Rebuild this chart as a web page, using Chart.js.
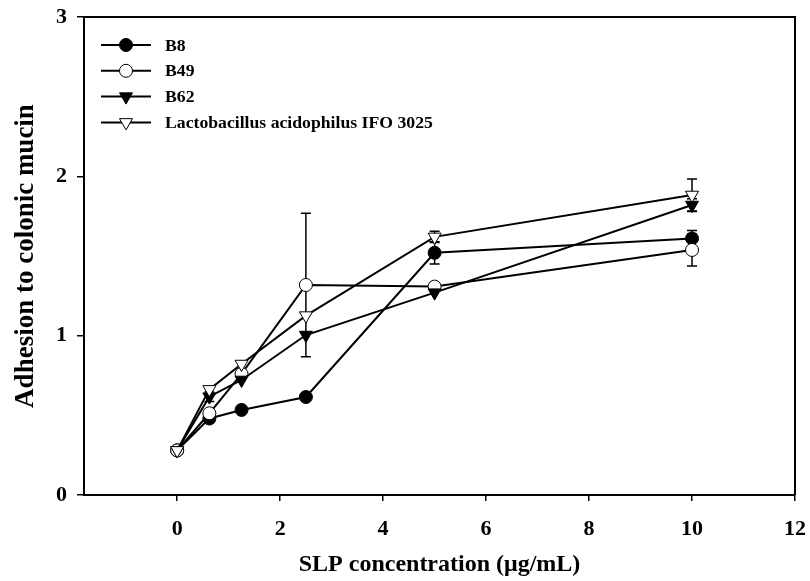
<!DOCTYPE html>
<html>
<head>
<meta charset="UTF-8" />
<title>Adhesion to colonic mucin</title>
<script src="https://cdn.jsdelivr.net/npm/chart.js"></script>
<style>
  html, body { margin: 0; padding: 0; background: #fff; }
  .wrap { width: 810px; height: 581px; position: relative; }
</style>
</head>
<body>
<div class="wrap"><canvas id="adhesionChart"></canvas></div>
<script>
  // SLP concentration (ug/mL) and adhesion values
  const concentrations = [0, 0.625, 1.25, 2.5, 5, 10];
  const seriesNames = ['B8', 'B49', 'B62', 'Lactobacillus acidophilus IFO 3025'];
  const b8     = [0.28, 0.48, 0.534, 0.615, 1.52, 1.61];
  const b8Err  = [0, 0.02, 0, 0, 0.07, 0.05];
  const b49    = [0.28, 0.513, 0.76, 1.318, 1.308, 1.538];
  const b49Err = [0, 0, 0, 0.45, 0, 0.10];
  const b62    = [0.28, 0.617, 0.722, 1.004, 1.27, 1.82];
  const b62Err = [0, 0.03, 0, 0, 0, 0.04];
  const lacto    = [0.28, 0.663, 0.822, 1.126, 1.62, 1.883];
  const lactoErr = [0, 0, 0, 0, 0.035, 0.10];
  const xTicks = [0, 2, 4, 6, 8, 10, 12];
  const yTicks = [0, 1, 2, 3];

  const FONT = "'Liberation Serif', 'Times New Roman', serif";

  function series(i, values, errs, style, filled) {
    return {
      label: seriesNames[i],
      data: concentrations.map((x, k) => ({ x: x, y: values[k], err: errs[k] })),
      borderColor: '#000',
      borderWidth: 2,
      tension: 0,
      pointStyle: style,
      pointRotation: style === 'triangle' ? 180 : 0,
      pointRadius: style === 'triangle' ? 7.5 : 6.5,
      pointBorderWidth: 1,
      pointBorderColor: '#000',
      pointBackgroundColor: filled ? '#000' : '#fff',
      order: 4 - i   // first series drawn first, later ones on top
    };
  }

  // vertical error bars with small caps, drawn under the markers
  const errorBars = {
    id: 'errorBars',
    beforeDatasetsDraw(chart) {
      const ctx = chart.ctx, xs = chart.scales.x, ys = chart.scales.y;
      ctx.save();
      ctx.strokeStyle = '#000';
      ctx.lineWidth = 1.5;
      chart.data.datasets.forEach(ds => {
        ds.data.forEach(p => {
          if (!p.err) return;
          const px = xs.getPixelForValue(p.x);
          const top = ys.getPixelForValue(p.y + p.err);
          const bot = ys.getPixelForValue(p.y - p.err);
          ctx.beginPath();
          ctx.moveTo(px, top); ctx.lineTo(px, bot);
          ctx.moveTo(px - 5, top); ctx.lineTo(px + 5, top);
          ctx.moveTo(px - 5, bot); ctx.lineTo(px + 5, bot);
          ctx.stroke();
        });
      });
      ctx.restore();
    }
  };

  // closed frame + legend box inside the plot
  const frameAndLegend = {
    id: 'frameAndLegend',
    afterDraw(chart) {
      const ctx = chart.ctx, a = chart.chartArea;
      ctx.save();
      ctx.strokeStyle = '#000';
      ctx.lineWidth = 2;
      ctx.beginPath();
      ctx.moveTo(a.left, a.top); ctx.lineTo(a.right, a.top); ctx.lineTo(a.right, a.bottom);
      ctx.stroke();

      chart.data.datasets.forEach((ds, i) => {
        const y = a.top + 28 + i * 25.8;
        const x0 = a.left + 17, x1 = a.left + 67;
        ctx.strokeStyle = '#000';
        ctx.lineWidth = 2;
        ctx.beginPath();
        ctx.moveTo(x0, y); ctx.lineTo(x1, y);
        ctx.stroke();
        ctx.fillStyle = ds.pointBackgroundColor;
        ctx.strokeStyle = '#000';
        ctx.lineWidth = 1;
        Chart.helpers.drawPoint(ctx, {
          pointStyle: ds.pointStyle, radius: ds.pointRadius,
          rotation: ds.pointRotation, borderWidth: 1
        }, (x0 + x1) / 2, y);
        ctx.fillStyle = '#000';
        ctx.font = 'bold 17.7px ' + FONT;
        ctx.textBaseline = 'middle';
        ctx.fillText(ds.label, a.left + 81, y + 1);
      });
      ctx.restore();
    }
  };

  new Chart(document.getElementById('adhesionChart'), {
    type: 'line',
    data: {
      datasets: [
        series(0, b8, b8Err, 'circle', true),
        series(1, b49, b49Err, 'circle', false),
        series(2, b62, b62Err, 'triangle', true),
        series(3, lacto, lactoErr, 'triangle', false)
      ]
    },
    options: {
      responsive: true,
      maintainAspectRatio: false,
      animation: false,
      layout: { padding: { left: 0, right: 15, top: 17, bottom: 0 } },
      plugins: { legend: { display: false }, tooltip: { enabled: false } },
      scales: {
        x: {
          type: 'linear',
          min: -1.81, max: 12,
          afterBuildTicks: s => { s.ticks = xTicks.map(v => ({ value: v })); },
          afterFit: s => { s.height = 86; s.paddingLeft = 0; s.paddingRight = 0; },
          ticks: { color: '#000', font: { family: FONT, size: 22, weight: 'bold' }, padding: 15 },
          grid: { drawOnChartArea: false, drawTicks: true, tickLength: 6, color: '#000', lineWidth: 1.5 },
          border: { display: true, color: '#000', width: 2 },
          title: {
            display: true, text: 'SLP concentration (\u03bcg/mL)', color: '#000',
            font: { family: FONT, size: 24, weight: 'bold' }, padding: { top: 0, bottom: 2 }
          }
        },
        y: {
          type: 'linear',
          min: 0, max: 3,
          afterBuildTicks: s => { s.ticks = yTicks.map(v => ({ value: v })); },
          afterFit: s => { s.width = 84; s.paddingTop = 0; s.paddingBottom = 0; },
          ticks: { color: '#000', font: { family: FONT, size: 22, weight: 'bold' }, padding: 10 },
          grid: { drawOnChartArea: false, drawTicks: true, tickLength: 7, color: '#000', lineWidth: 1.5 },
          border: { display: true, color: '#000', width: 2 },
          title: {
            display: true, text: 'Adhesion to colonic mucin', color: '#000',
            font: { family: FONT, size: 27, weight: 'bold' }, padding: { top: 10, bottom: 0 }
          }
        }
      }
    },
    plugins: [errorBars, frameAndLegend]
  });
</script>
</body>
</html>
